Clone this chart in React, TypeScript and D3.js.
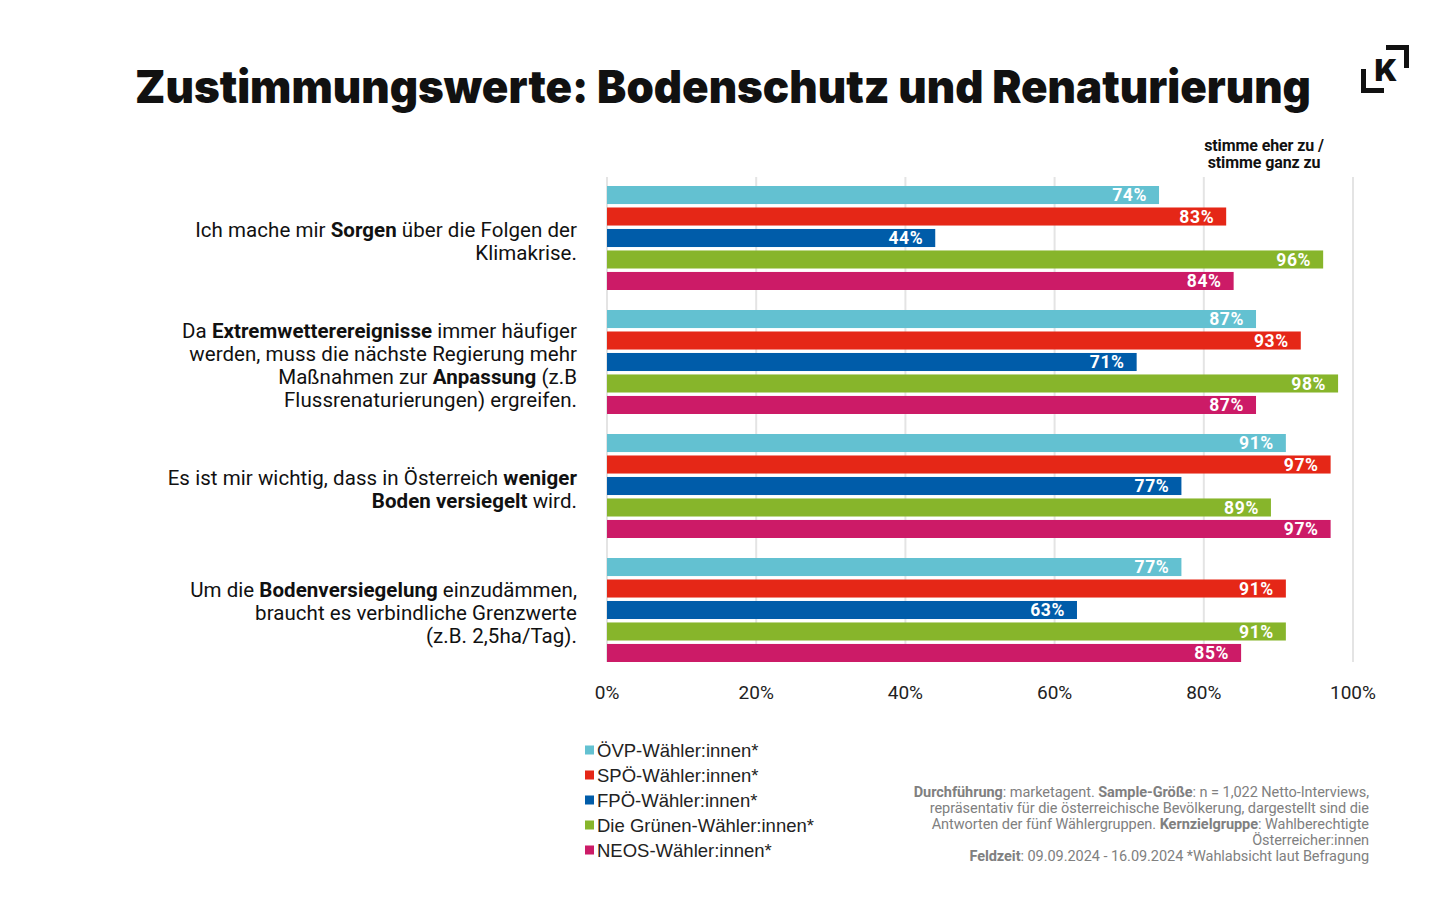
import * as d3 from "d3";

// questions (rich text lines: [text, bold])
const questions = ["sorgen", "anpassung", "versiegelt", "grenzwerte"];
const questionLines: [string, boolean][][][] = [
  [
    [["Ich mache mir ", false], ["Sorgen", true], [" über die Folgen der", false]],
    [["Klimakrise.", false]],
  ],
  [
    [["Da ", false], ["Extremwetterereignisse", true], [" immer häufiger", false]],
    [["werden, muss die nächste Regierung mehr", false]],
    [["Maßnahmen zur ", false], ["Anpassung", true], [" (z.B", false]],
    [["Flussrenaturierungen) ergreifen.", false]],
  ],
  [
    [["Es ist mir wichtig, dass in Österreich ", false], ["weniger", true]],
    [["Boden versiegelt", true], [" wird.", false]],
  ],
  [
    [["Um die ", false], ["Bodenversiegelung", true], [" einzudämmen,", false]],
    [["braucht es verbindliche Grenzwerte", false]],
    [["(z.B. 2,5ha/Tag).", false]],
  ],
];

const parties = [
  "ÖVP-Wähler:innen*",
  "SPÖ-Wähler:innen*",
  "FPÖ-Wähler:innen*",
  "Die Grünen-Wähler:innen*",
  "NEOS-Wähler:innen*",
];
const partyColors = ["#63c1d1", "#e52717", "#005ca9", "#87b52b", "#cc1b67"];

// values per question, ordered as parties
const oevp = [74, 87, 91, 77];
const spoe = [83, 93, 97, 91];
const fpoe = [44, 71, 77, 63];
const gruene = [96, 98, 89, 91];
const neos = [84, 87, 97, 85];
const seriesValues = [oevp, spoe, fpoe, gruene, neos];

const xTicks = [0, 20, 40, 60, 80, 100];

const footLines: [string, boolean][][] = [
  [["Durchführung", true], [": marketagent. ", false], ["Sample-Größe", true], [": n = 1,022 Netto-Interviews,", false]],
  [["repräsentativ für die österreichische Bevölkerung, dargestellt sind die", false]],
  [["Antworten der fünf Wählergruppen. ", false], ["Kernzielgruppe", true], [": Wahlberechtigte", false]],
  [["Österreicher:innen", false]],
  [["Feldzeit", true], [": 09.09.2024 - 16.09.2024 *Wahlabsicht laut Befragung", false]],
];

const W = 1439;
const H = 919;
const sans = "Roboto, 'Liberation Sans', sans-serif";
const narrow = "'Liberation Sans Narrow', 'Roboto', sans-serif";

export default function App() {
  const x = d3.scaleLinear().domain([0, 100]).range([607, 1353]);
  const yGroup = d3.scaleBand<string>().domain(questions).range([186, 186 + 4 * 124]);
  const yBar = d3
    .scaleBand<string>()
    .domain(parties)
    .range([0, 104])
    .paddingInner(0.16);

  return (
    <svg
      width={W}
      height={H}
      viewBox={`0 0 ${W} ${H}`}
      style={{ display: "block", position: "absolute", left: 0, top: 0, background: "#fff" }}
    >
      <rect width={W} height={H} fill="#fff" />
      {/* title */}
      <text
        x={135}
        y={103}
        fontFamily="Inter, 'Noto Sans', sans-serif"
        fontWeight={900}
        fontSize={45}
        textLength={1176}
        lengthAdjust="spacingAndGlyphs"
        fill="#111"
      >
        Zustimmungswerte: Bodenschutz und Renaturierung
      </text>

      {/* logo */}
      <g fill="#111">
        <path d="M1361,69 h5 v19 h18 v5 h-23 z" />
        <path d="M1386,45 h23 v23 h-5 v-18 h-18 z" />
        <text
          x={1386}
          y={81}
          textAnchor="middle"
          fontFamily="Inter, sans-serif"
          fontWeight={900}
          fontSize={30}
        >
          K
        </text>
      </g>

      {/* column header */}
      <g
        fontFamily={sans}
        fontWeight={700}
        fontSize={16}
        textAnchor="middle"
        fill="#111"
        letterSpacing={-0.1}
      >
        <text x={1264} y={151}>stimme eher zu /</text>
        <text x={1264} y={168}>stimme ganz zu</text>
      </g>

      {/* gridlines */}
      {xTicks.map((t) => (
        <line
          key={t}
          x1={x(t)}
          x2={x(t)}
          y1={177}
          y2={662}
          stroke="#e4e4e4"
          strokeWidth={2}
        />
      ))}

      {/* bars */}
      {questions.map((q, qi) => (
        <g key={q} transform={`translate(0,${yGroup(q)})`}>
          {parties.map((p, pi) => {
            const v = seriesValues[pi][qi];
            const y0 = yBar(p)!;
            const bw = yBar.bandwidth();
            return (
              <g key={p}>
                <rect
                  x={x(0)}
                  y={y0}
                  width={x(v) - x(0)}
                  height={bw}
                  fill={partyColors[pi]}
                />
                <text
                  x={x(v) - 12}
                  y={y0 + bw / 2}
                  dy="0.36em"
                  textAnchor="end"
                  fontFamily={sans}
                  fontWeight={700}
                  fontSize={17.5}
                  letterSpacing={0.6}
                  fill="#fff"
                >
                  {v}%
                </text>
              </g>
            );
          })}
        </g>
      ))}

      {/* question labels */}
      {questions.map((q, qi) => {
        const lines = questionLines[qi];
        const center = yGroup(q)! + 52 + 3;
        const first = center - ((lines.length - 1) * 23) / 2 + 7;
        return (
          <g key={q} fontFamily={sans} fontSize={20.5} fill="#111" textAnchor="end" letterSpacing={0.05}>
            {lines.map((line, li) => (
              <text key={li} x={577} y={first + li * 23}>
                {line.map(([t, b], si) => (
                  <tspan key={si} fontWeight={b ? 700 : 400}>
                    {t}
                  </tspan>
                ))}
              </text>
            ))}
          </g>
        );
      })}

      {/* x axis labels */}
      {xTicks.map((t) => (
        <text
          key={t}
          x={x(t)}
          y={699}
          textAnchor="middle"
          fontFamily={narrow}
          fontSize={19}
          fill="#222"
        >
          {t}%
        </text>
      ))}

      {/* legend */}
      {parties.map((p, i) => (
        <g key={p} transform={`translate(585,${750 + i * 25})`}>
          <rect x={0} y={-4.5} width={9} height={9} fill={partyColors[i]} />
          <text
            x={12}
            y={0}
            dy="0.36em"
            fontFamily="'Liberation Sans', Arial, sans-serif"
            fontSize={18.5}
            fill="#222"
          >
            {p}
          </text>
        </g>
      ))}

      {/* footnote */}
      <g fontFamily={sans} fontSize={14.5} fill="#808080" textAnchor="end" letterSpacing={-0.05}>
        {footLines.map((line, li) => (
          <text key={li} x={1369} y={797 + li * 16}>
            {line.map(([t, b], si) => (
              <tspan key={si} fontWeight={b ? 700 : 400}>
                {t}
              </tspan>
            ))}
          </text>
        ))}
      </g>
    </svg>
  );
}
